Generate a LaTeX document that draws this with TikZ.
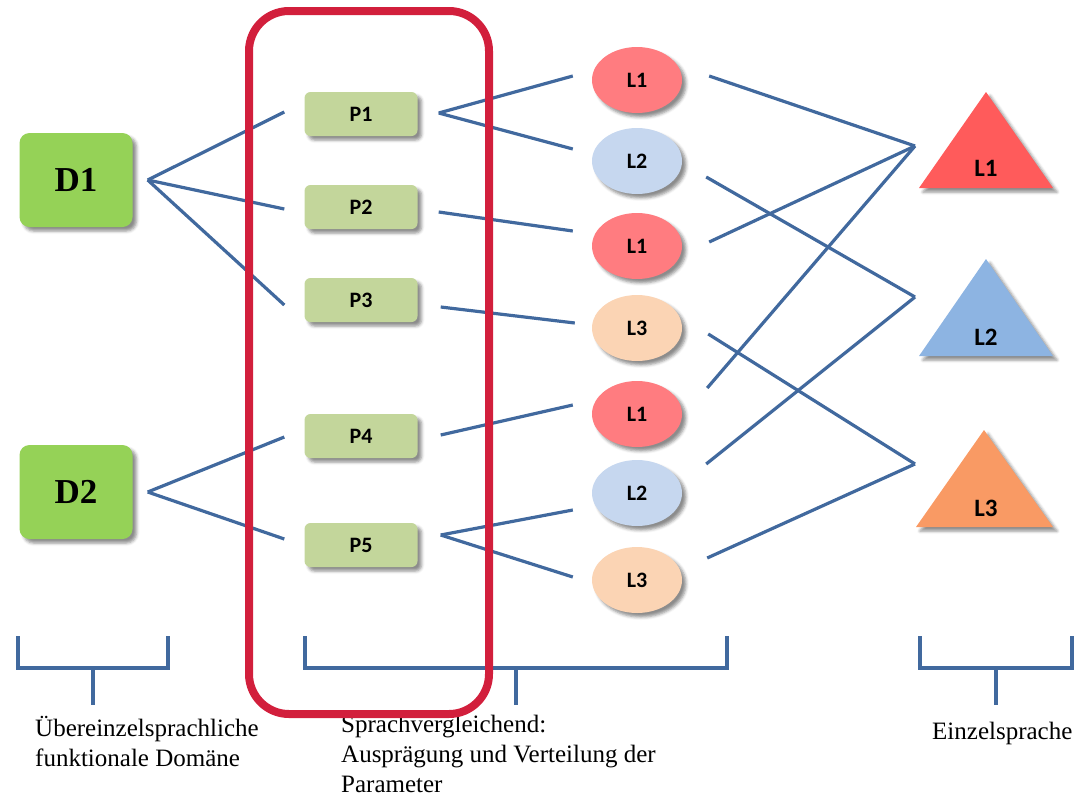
\documentclass[tikz,border=0pt]{standalone}
\usepackage{fontspec}
\setmainfont{Liberation Serif}
\newfontfamily\boxfont{Carlito}
\usetikzlibrary{shapes.geometric,shadows.blur}

\definecolor{linkblue}{HTML}{41699E}
\definecolor{domgreen}{HTML}{95D257}
\definecolor{pargreen}{HTML}{C3D69B}
\definecolor{ellred}{HTML}{FF7C80}
\definecolor{ellblue}{HTML}{C6D7EF}
\definecolor{ellpeach}{HTML}{FBD4B4}
\definecolor{trired}{HTML}{FF5B5B}
\definecolor{triblue}{HTML}{8DB4E2}
\definecolor{triorange}{HTML}{F99A64}
\definecolor{framered}{HTML}{D21F3C}

\begin{document}
\begin{tikzpicture}[x=1pt,y=-1pt,
  link/.style={linkblue, line width=3.2pt},
  shade/.style={blur shadow={shadow xshift=4pt, shadow yshift=-4pt,
    shadow blur radius=3pt, shadow opacity=45}},
  dom/.style={shade, fill=domgreen, rounded corners=10pt,
    minimum width=113pt, minimum height=94pt,
    font=\bfseries\fontsize{35}{35}\selectfont},
  par/.style={shade, fill=pargreen, rounded corners=6pt,
    minimum width=113pt, minimum height=44pt,
    font=\boxfont\bfseries\fontsize{22}{22}\selectfont},
  lang/.style={shade, ellipse, minimum width=90pt, minimum height=66pt,
    inner sep=0pt, font=\boxfont\bfseries\fontsize{22}{22}\selectfont},
  trilabel/.style={font=\boxfont\bfseries\fontsize{25}{25}\selectfont},
  brace/.style={linkblue, line width=3.2pt},
  caption/.style={anchor=north west, align=left, inner sep=0pt,
    font=\fontsize{25}{30}\selectfont}]

\useasboundingbox (0,0) rectangle (1084,798);

% domains
\node[dom] (D1) at (76,180) {D1};
\node[dom] (D2) at (76,492) {D2};

% parameters
\node[par] (P1) at (361,114) {P1};
\node[par] (P2) at (361,207) {P2};
\node[par] (P3) at (361,300) {P3};
\node[par] (P4) at (361,436) {P4};
\node[par] (P5) at (361,545) {P5};

% language values
\node[lang, fill=ellred]   (L1a) at (637,80)  {L1};
\node[lang, fill=ellblue]  (L2a) at (637,161) {L2};
\node[lang, fill=ellred]   (L1b) at (637,246) {L1};
\node[lang, fill=ellpeach] (L3a) at (637,328) {L3};
\node[lang, fill=ellred]   (L1c) at (637,414) {L1};
\node[lang, fill=ellblue]  (L2b) at (637,493) {L2};
\node[lang, fill=ellpeach] (L3b) at (637,580) {L3};

% single languages (triangles)
\fill[trired, shade]    (986,92)  -- (1053,188) -- (919,188) -- cycle;
\fill[triblue, shade]   (986,259) -- (1053,356) -- (919,356) -- cycle;
\fill[triorange, shade] (984,430) -- (1053,527) -- (916,527) -- cycle;
\node[trilabel] (T1) at (986,168) {L1};
\node[trilabel] (T2) at (986,337) {L2};
\node[trilabel] (T3) at (986,508) {L3};

% meeting points left of the triangles
\coordinate (A1) at (915,146);
\coordinate (A2) at (915,297);
\coordinate (A3) at (915,464);

% ---- D -> P ----
\draw[link] ([xshift=15]D1.east) -- ([shift={(-20,-2)}]P1.west);
\draw[link] ([xshift=15]D1.east) -- ([shift={(-20,2)}]P2.west);
\draw[link] ([xshift=15]D1.east) -- ([shift={(-20,5)}]P3.west);
\draw[link] ([xshift=15]D2.east) -- ([shift={(-20,1)}]P4.west);
\draw[link] ([xshift=15]D2.east) -- ([shift={(-20,-6)}]P5.west);

% ---- P -> L ----
\draw[link] ([shift={(21,-1)}]P1.east) -- ([shift={(-19,-4)}]L1a.west);
\draw[link] ([shift={(21,-1)}]P1.east) -- ([shift={(-19,-12)}]L2a.west);
\draw[link] ([shift={(21,5)}]P2.east)  -- ([shift={(-19,-15)}]L1b.west);
\draw[link] ([shift={(23,7)}]P3.east)  -- ([shift={(-17,-5)}]L3a.west);
\draw[link] ([shift={(23,-1)}]P4.east) -- ([shift={(-19,-9)}]L1c.west);
\draw[link] ([shift={(23,-10)}]P5.east) -- ([shift={(-19,17)}]L2b.west);
\draw[link] ([shift={(23,-10)}]P5.east) -- ([shift={(-19,-3)}]L3b.west);

% ---- L -> single language ----
\draw[link] ([shift={(27,-4)}]L1a.east)  -- (A1);
\draw[link] ([shift={(24,16)}]L2a.east)  -- (A2);
\draw[link] ([shift={(27,-4)}]L1b.east)  -- (A1);
\draw[link] ([shift={(26,6)}]L3a.east)   -- (A3);
\draw[link] ([shift={(25,-26)}]L1c.east) -- (A1);
\draw[link] ([shift={(24,-29)}]L2b.east) -- (A2);
\draw[link] ([shift={(25,-22)}]L3b.east) -- (A3);

% brackets
\draw[brace] (18,636) -- (18,668) -- (168,668) -- (168,636);
\draw[brace] (93,668) -- (93,705);
\draw[brace] (305,636) -- (305,668) -- (727,668) -- (727,636);
\draw[brace] (516,668) -- (516,705);
\draw[brace] (920,636) -- (920,668) -- (1072,668) -- (1072,636);
\draw[brace] (996,668) -- (996,705);

% captions
\node[caption] (C1) at (35,716) {Übereinzelsprachliche\\funktionale Domäne};
\node[caption] (C2) at (341,715) {Sprachvergleichend:\\Ausprägung und Verteilung der\\Parameter};
\node[caption] (C3) at (932,722) {Einzelsprache};

% highlight frame
\draw[framered, line width=8pt, rounded corners=40pt] (249,11) rectangle (489,714);

\end{tikzpicture}
\end{document}
